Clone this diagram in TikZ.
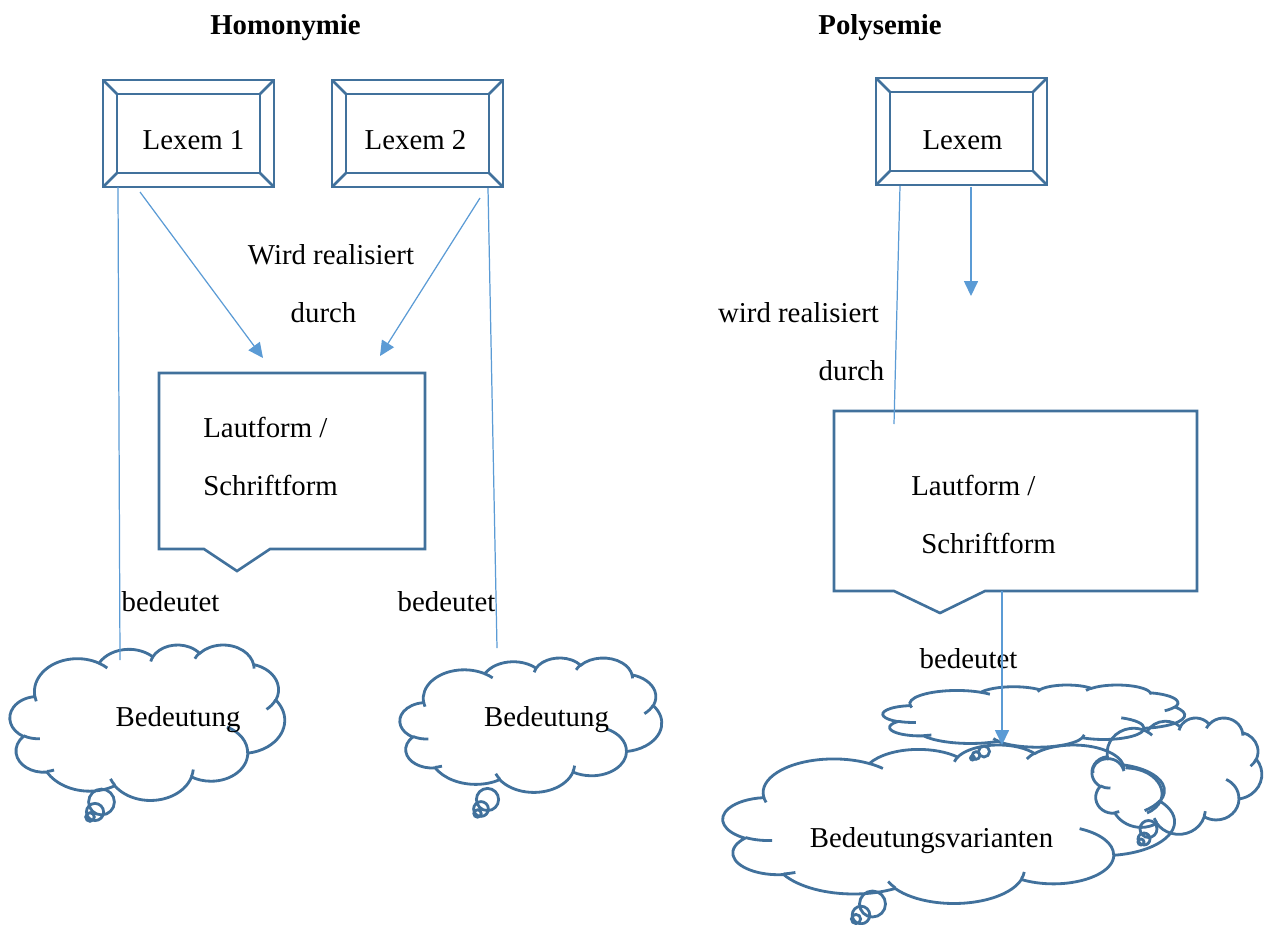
\documentclass[tikz,border=0pt]{standalone}
\usepackage{fontspec}
\setmainfont{Liberation Serif}
\usetikzlibrary{arrows.meta,calc,fit}
\definecolor{shapeblue}{HTML}{41719C}
\definecolor{linkblue}{HTML}{5B9BD5}

\tikzset{
  outline/.style={draw=shapeblue, line width=1.5pt},
  cloudline/.style={draw=shapeblue, line width=1.6pt},
  link/.style={draw=linkblue, line width=0.7pt},
  linkarrow/.style={link, -{Triangle[length=8.5pt,width=8pt]}},
  txt/.style={font=\fontsize{16.4}{19}\selectfont, inner sep=0pt, anchor=base},
  heading/.style={txt, font=\fontsize{16.4}{19}\selectfont\bfseries},
  frame/.style={inner sep=0pt, outer sep=0pt},
}

% one elliptic arc of the cloud outline; angles are measured as seen
% on the ellipse and turned into the parameter angle of the arc
\newcommand\carc[4]{arc[x radius=#1, y radius=#2,
  start angle={atan2(#1*sin(#3),#2*cos(#3))},
  delta angle={mod(atan2(#1*sin(#3+#4),#2*cos(#3+#4))-atan2(#1*sin(#3),#2*cos(#3))+720,360)}]}

% framed box with bevelled border: name, x0, y0, x1, y1, inset
\newcommand\bevelbox[6]{%
  \node[frame, outline, fit={(#2,#3)(#4,#5)}] (#1) {};
  \draw[outline] ($(#1.north west)+(#6,#6)$) rectangle ($(#1.south east)+(-#6,-#6)$);
  \draw[outline] (#1.north west) -- +(#6,#6)
                 (#1.north east) -- +(-#6,#6)
                 (#1.south west) -- +(#6,-#6)
                 (#1.south east) -- +(-#6,-#6);
}

% thought cloud outline: name, visible x0, y0, x1, y1
\newcommand\thoughtcloud[5]{%
  \pgfmathsetmacro\cw{(#4-#2)/1.0013}%
  \pgfmathsetmacro\ch{(#5-#3)/0.9972}%
  \pgfmathsetmacro\cx{#2}%
  \pgfmathsetmacro\cy{#3-0.0034*\ch}%
  \begin{scope}[shift={(\cx,\cy)}, xscale=\cw/43.2, yscale=\ch/43.2]
    \draw[cloudline] (3.900,14.370)
      \carc{6.753}{9.190}{-190.4875}{123.7805}
      \carc{5.333}{7.267}{-144.1024}{89.9452}
      \carc{4.365}{5.945}{-145.8079}{99.7230}
      \carc{4.857}{6.595}{-130.9861}{117.2417}
      \carc{5.333}{7.273}{-78.7089}{109.0269}
      \carc{6.775}{9.220}{-46.2673}{130.2690}
      \carc{5.785}{7.867}{0.6250}{114.0333}
      \carc{6.752}{9.215}{22.4516}{115.1726}
      \carc{7.720}{10.543}{66.2426}{75.7110}
      \carc{4.360}{5.918}{-274.9421}{146.7356}
      \carc{4.345}{5.945}{-246.8285}{152.5189}
      -- cycle;
    \draw[cloudline]
      (4.693,26.177) \carc{4.345}{5.945}{86.7420}{26.4295}
      (6.928,34.899) \carc{4.360}{5.918}{73.6105}{11.4475}
      (16.478,39.090) \carc{6.752}{9.215}{137.6242}{14.0811}
      (28.827,34.751) \carc{6.752}{9.215}{6.4533}{15.9984}
      (34.129,22.954) \carc{5.785}{7.867}{-70.2924}{70.9174}
      (41.798,15.354) \carc{5.333}{7.273}{30.3180}{27.7515}
      (38.324,5.426) \carc{4.857}{6.595}{-13.7443}{14.8589}
      (29.078,3.952) \carc{4.857}{6.595}{-149.1815}{18.1954}
      (22.141,4.720) \carc{4.365}{5.945}{-163.4943}{17.6864}
      (14.000,5.192) \carc{6.753}{9.190}{-66.7070}{12.3194}
      (4.127,15.789) \carc{6.753}{9.190}{157.6544}{11.8582};
  \end{scope}
  \node[frame, fit={(#2,#3)(#4,#5)}] (#1) {};
}

% three small bubbles of a thought cloud
\newcommand\bubbles[9]{%
  \draw[cloudline] (#1,#2) circle[radius=#3] (#4,#5) circle[radius=#6] (#7,#8) circle[radius=#9];
}

\begin{document}
\begin{tikzpicture}[x=0.02cm, y=-0.02cm]
\useasboundingbox (0,0) rectangle (1268,924);

% headings
\node[heading] (hom) at (285.5,34) {Homonymie};
\node[heading] (poly) at (880,34) {Polysemie};

% ---------- left part: homonymy ----------
\bevelbox{lex1}{103}{80}{274}{187}{14}
\bevelbox{lex2}{332}{80}{503}{187}{14}
\node[txt] (lex1t) at (193.5,149.5) {Lexem 1};
\node[txt] (lex2t) at (415.5,149.5) {Lexem 2};

\draw[outline] (159,373) -- (425,373) -- (425,549) -- (270,549) -- (237,571) -- (204,549) -- (159,549) -- cycle;
\node[frame, fit={(159,373)(425,571)}] (form1) {};
\node[txt, anchor=base west] (form1a) at (203,437.5) {Lautform /};
\node[txt, anchor=base west] (form1b) at (203,495.5) {Schriftform};

\node[txt] (real1) at (331,264.5) {Wird realisiert};
\node[txt] (durch1) at (323.5,322) {durch};
\node[txt] (bed1l) at (170.5,611) {bedeutet};
\node[txt] (bed2l) at (446.5,611) {bedeutet};

\thoughtcloud{bed1}{10}{645}{285}{800}
\bubbles{101.5}{802}{12.9}{95}{812}{8.6}{90}{817}{4.3}
\node[txt] (bed1t) at (178,726.5) {Bedeutung};

\thoughtcloud{bed2}{400}{658}{662}{792}
\bubbles{487.5}{799.5}{11.1}{481}{809}{7.4}{477.5}{813.5}{3.7}
\node[txt] (bed2t) at (546.5,726.5) {Bedeutung};

\coordinate (form1in1) at (263,358);
\coordinate (form1in2) at (380,356);
\coordinate (bed1in) at (120,660);
\coordinate (bed2in) at (497,648);

\draw[link] ($(lex1.south west)+(15,0)$) -- (bed1in);
\draw[linkarrow] ($(lex1.south west)+(37,5)$) -- (form1in1);
\draw[linkarrow] ($(lex2.south east)+(-23,11)$) -- (form1in2);
\draw[link] ($(lex2.south east)+(-15,1)$) -- (bed2in);

% ---------- right part: polysemy ----------
\bevelbox{lex3}{876}{78}{1047}{185}{14}
\node[txt] (lex3t) at (962.5,149.5) {Lexem};

\draw[outline] (834,411) -- (1197,411) -- (1197,591) -- (985,591) -- (940,613) -- (894,591) -- (834,591) -- cycle;
\node[frame, fit={(834,411)(1197,613)}] (form2) {};
\node[txt, anchor=base west] (form2a) at (911,495.5) {Lautform /};
\node[txt, anchor=base west] (form2b) at (921,553.5) {Schriftform};

\node[txt] (real2) at (798.5,322) {wird realisiert};
\node[txt] (durch2) at (851.5,380) {durch};
\node[txt] (bed3l) at (968.5,668) {bedeutet};

\thoughtcloud{varA}{883}{685}{1185}{747}
\bubbles{984}{751.5}{5.5}{976}{755.5}{3.8}{972.5}{758}{2}
\thoughtcloud{varB}{723}{745}{1175}{903}
\bubbles{872.5}{904}{13}{861}{915}{8.8}{856}{919}{4.6}
\thoughtcloud{varC}{1092}{718}{1262}{834}
% extra puffs of the small front cloud
\draw[cloudline] (1093,773) .. controls (1090,758) and (1118,751) .. (1124,771)
                 (1126,768) .. controls (1160,768) and (1176,800) .. (1147,813);
\bubbles{1148.5}{829}{8.5}{1144}{839}{6}{1141}{842}{3}
\node[txt] (vart) at (931.5,847.5) {Bedeutungsvarianten};

\coordinate (form2in) at (894,424);
\coordinate (lex3end) at (971,296);
\coordinate (varAin) at (1002,745);

\draw[link] ($(lex3.south west)+(24,1)$) -- (form2in);
\draw[linkarrow] ($(lex3.south west)+(95,2)$) -- (lex3end);
\draw[linkarrow] ($(form2.south west)+(168,-22)$) -- (varAin);
\end{tikzpicture}
\end{document}
